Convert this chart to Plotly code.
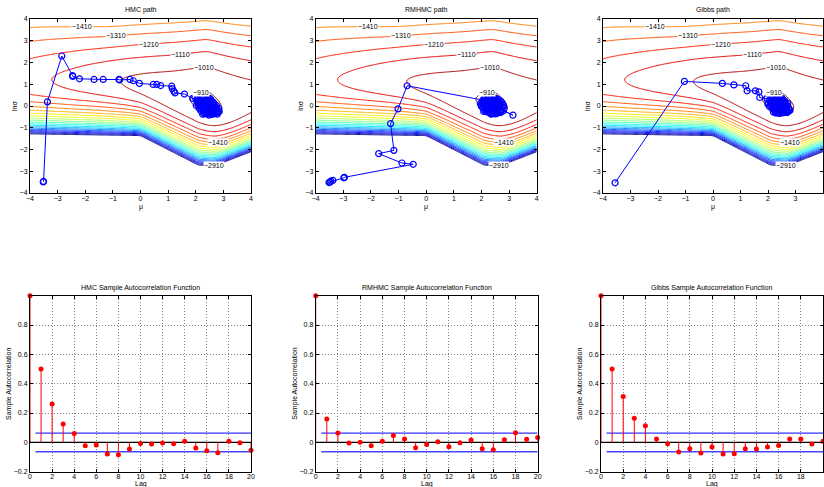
import numpy as np
import plotly.graph_objects as go

# ---------------- data ----------------
# sampler paths in (mu, ln sigma): burn-in part, then the dense cloud around the mode
hmc_mu = [-3.52, -3.51, -3.37, -2.85, -2.46, -2.45, -2.21, -1.68, -1.35, -0.78, -0.76, -0.38, -0.26, -0.04,
          0.46, 0.59, 0.73, 1.13, 1.15, 1.21, 1.25, 1.59, 1.89,
          2.05, 2.35, 2.15, 2.55, 2.25, 2.62, 2.42, 2.72, 2.32, 2.58, 2.18, 2.78, 2.48, 2.38, 2.66, 2.08,
          2.52, 2.82, 2.28, 2.60, 2.42, 2.22, 2.70, 2.36, 2.56, 2.12, 2.46, 2.76, 2.30, 2.62, 2.50, 2.20,
          2.40, 2.84, 2.16, 2.50, 2.66, 2.32, 2.02, 2.56, 2.44, 2.26, 2.70, 2.38, 2.60,
          2.45, 2.65, 2.25, 2.55, 2.35, 2.70, 2.15, 2.50, 2.80, 2.30, 2.60, 2.40, 2.20, 2.75, 2.45, 2.05,
          2.58, 2.35, 2.68, 2.28, 2.52, 2.12, 2.62, 2.42, 2.85, 2.30, 2.50, 2.18, 2.72, 2.40, 2.60, 2.25,
          2.55, 2.10, 2.48, 2.78, 2.34, 2.66, 1.98, 2.45]
hmc_ls = [-3.49, -3.47, 0.19, 2.30, 1.40, 1.36, 1.25, 1.22, 1.22, 1.22, 1.20, 1.22, 1.16, 1.04,
          0.99, 0.99, 0.94, 0.91, 0.80, 0.68, 0.60, 0.55, 0.35,
          0.32, 0.05, 0.22, -0.12, 0.12, -0.28, 0.02, -0.15, -0.18, 0.12, -0.02, -0.30, -0.36, 0.26, 0.04, 0.12,
          0.22, -0.22, -0.30, -0.38, 0.14, 0.36, -0.02, -0.08, -0.22, -0.10, 0.30, -0.08, 0.00, 0.10, -0.28, 0.16,
          -0.22, -0.12, 0.30, 0.06, -0.30, -0.36, 0.02, 0.24, -0.05, 0.24, -0.22, -0.30, 0.00,
          0.18, -0.18, 0.05, 0.00, -0.25, -0.35, 0.10, 0.35, -0.30, 0.18, -0.10, -0.32, -0.15, 0.02, 0.10, 0.20,
          -0.38, 0.32, -0.25, -0.08, 0.15, 0.00, 0.18, -0.15, -0.25, 0.40, -0.18, -0.22, -0.12, 0.22, -0.05, -0.38,
          0.30, 0.25, -0.42, -0.38, 0.08, 0.14, 0.38, -0.10]

rmhmc_mu = [-3.52, -3.45, -3.38, -3.48, -2.98, -2.96, -0.47, -0.88, -1.72, -1.17, -1.29, -1.02, -0.69,
            2.06, 2.45, 3.14, 2.80, 2.30, 2.55, 2.10, 2.65, 2.35, 2.75, 2.20, 2.50, 2.00, 2.40, 2.70, 2.25,
            2.60, 2.05, 2.45, 2.80, 2.15, 2.55, 2.35, 2.65, 2.25, 2.50, 2.10, 2.40, 2.72, 2.30, 2.58, 2.18,
            2.48, 2.02, 2.36, 2.68, 2.28, 2.52, 2.42, 2.62,
            2.32, 2.12, 2.55, 2.75, 2.20, 2.45, 2.62, 2.05, 2.38, 2.82, 2.28, 2.50, 2.15, 2.70, 2.42, 2.00,
            2.58, 2.25, 2.48, 2.78, 2.35, 2.10, 2.65, 2.30, 2.52, 2.22, 2.72, 2.40, 1.96, 2.60, 2.18, 2.45,
            2.35, 2.68, 2.08, 2.55]
rmhmc_ls = [-3.52, -3.45, -3.42, -3.50, -3.30, -3.28, -2.68, -2.62, -2.19, -2.04, -0.81, -0.13, 0.93,
            0.27, 0.00, -0.42, -0.22, 0.30, -0.30, 0.18, 0.10, -0.35, -0.05, -0.10, 0.34, 0.05, -0.20, 0.22,
            0.38, -0.15, -0.08, 0.15, 0.02, 0.28, 0.28, -0.32, -0.28, 0.06, -0.02, 0.36, 0.24, -0.20, -0.12,
            0.14, -0.22, -0.36, 0.20, -0.05, 0.08, 0.18, -0.18, 0.40, -0.05,
            -0.25, -0.20, 0.08, 0.15, 0.25, -0.30, 0.30, 0.12, 0.10, -0.10, -0.05, 0.22, -0.12, -0.30, 0.30, -0.02,
            -0.12, 0.36, -0.10, 0.05, -0.38, 0.08, 0.18, 0.00, 0.35, -0.28, -0.22, -0.15, 0.10, 0.22, 0.04, 0.12,
            0.42, -0.02, -0.25, -0.35]

gibbs_mu = [-3.56, -1.04, 0.34, 0.76, 1.19, 1.24, 1.54, 1.67, 1.70, 1.96, 2.16, 2.20,
            2.45, 2.10, 2.60, 2.30, 2.75, 2.20, 2.50, 2.00, 2.65, 2.35, 2.15, 2.55, 2.40, 2.78, 2.25,
            2.62, 2.05, 2.45, 2.70, 2.30, 2.52, 2.12, 2.42, 2.68, 2.22, 2.58, 2.36, 2.48, 2.18, 2.74,
            2.32, 2.56, 2.08, 2.44, 2.64, 2.28,
            2.50, 2.15, 2.70, 2.38, 2.58, 2.25, 2.80, 2.45, 2.05, 2.62, 2.32, 2.52, 2.20, 2.72, 2.42, 2.10,
            2.55, 2.35, 2.66, 2.28, 2.48, 2.00, 2.60, 2.40, 2.76, 2.22, 2.54, 2.34, 2.68, 2.46, 2.14, 2.58,
            2.30, 2.44]
gibbs_ls = [-3.53, 1.13, 1.04, 0.97, 0.93, 0.70, 0.70, 0.65, 0.39, 0.33, 0.50, 0.30,
            0.05, 0.20, -0.20, 0.32, -0.10, -0.05, 0.28, 0.08, 0.10, -0.30, 0.36, -0.32, 0.15, -0.18, -0.22,
            0.22, -0.02, -0.12, 0.02, 0.00, 0.34, 0.25, -0.34, -0.28, 0.10, -0.08, 0.26, -0.25, -0.15, -0.25,
            -0.32, 0.12, 0.14, 0.38, -0.02, 0.18,
            -0.05, 0.05, -0.30, 0.15, 0.20, -0.15, -0.20, -0.22, 0.28, -0.12, 0.04, 0.30, -0.28, 0.12, -0.32, 0.18,
            -0.28, 0.40, 0.00, -0.32, 0.08, 0.15, -0.20, 0.32, -0.10, 0.22, -0.15, -0.05, -0.22, -0.02, -0.10, 0.12,
            0.22, 0.36]

# autocorrelation functions
lags = list(range(21))
acf_hmc = [1.0, 0.50, 0.261, 0.126, 0.06, -0.023, -0.018, -0.080, -0.085, -0.046, -0.007,
           -0.011, -0.005, -0.009, 0.007, -0.039, -0.057, -0.071, 0.007, -0.002, -0.053]
acf_rmhmc = [1.0, 0.16, 0.064, -0.005, 0.0, -0.023, 0.007, 0.046, 0.023, -0.037, -0.014,
             0.005, -0.030, -0.002, 0.016, -0.043, -0.050, 0.018, 0.066, 0.021, 0.034]
acf_gibbs = [1.0, 0.50, 0.313, 0.165, 0.114, 0.023, -0.009, -0.066, -0.043, -0.073, -0.032,
             -0.080, -0.078, -0.043, -0.046, -0.032, -0.021, 0.023, 0.023, -0.011, 0.007]
acf_bound = 0.0632

titles_top = ["HMC path", "RMHMC path", "Gibbs path"]
titles_bottom = ["HMC Sample Autocorrelation Function", "RMHMC Sample Autocorrelation Function",
                 "Gibbs Sample Autocorrelation Function"]

# log-posterior surface description (contour levels and shape)
level_lo, level_hi, level_step = -2910, -910, 100
peak_mu, peak_val = 2.4, -890.0
ridge_mu = [-5.5, -4, -1.5, -0.5, 0.5, 1.3, 1.9, 2.4, 2.9, 3.4, 4, 5.5]
ridge_ls = [1.22, 1.22, 1.20, 1.12, 0.85, 0.50, 0.28, 0.05, -0.15, -0.05, 0.25, 0.8]
wall_mu = [-5.5, -4, 0, 2.1, 2.7, 4, 5.5]
wall_ls = [-1.27, -1.28, -1.36, -2.72, -2.74, -2.10, -1.4]
steep_mu = [-5.5, -4, -1, 5.5]
steep_val = [0.7, 0.7, 1.0, 1.0]
contour_labels = [(-1410, -2.1, 'up'), (-1310, -0.9, 'up'), (-1210, 0.3, 'up'), (-1110, 1.45, 'up'),
                  (-1010, 2.3, 'up'), (-910, 2.2, 'up'), (-1410, 2.8, 'down'), (-2910, 2.65, 'down')]

# ---------------- surface ----------------
def smooth_curve(xc, yc, x, sigma):
    fine = np.linspace(-5.5, 5.5, 1101)
    y = np.interp(fine, xc, yc)
    n = int(round(sigma / 0.01))
    if n > 0:
        k = np.arange(-3 * n, 3 * n + 1)
        ker = np.exp(-0.5 * (k / n) ** 2)
        ker /= ker.sum()
        y = np.convolve(np.pad(y, 3 * n, mode='edge'), ker, mode='valid')
    return np.interp(x, fine, y)


def P(s):
    u = np.maximum(s + 0.5, 0)
    return 21.7 * u ** 2 + 1.195 * u ** 3


def dP(s):
    u = np.maximum(s + 0.5, 0)
    return 43.4 * u + 3.585 * u ** 2


def surface(MU, S):
    r = smooth_curve(ridge_mu, ridge_ls, MU, 0.3)
    w = smooth_curve(wall_mu, wall_ls, MU, 0.05)
    lam = smooth_curve(steep_mu, steep_val, MU, 0.4)
    dm = MU - peak_mu
    c = np.where(dm < 0, 40.0, 46.0)
    M = peak_val - c * (np.sqrt(dm ** 2 + 0.11 ** 2) - 0.11)
    du = S - r
    dup = np.maximum(du, 0)
    up = lam * (P(S) - P(r) - dP(r) * dup * np.exp(-dup / 0.5))
    t = (r - S) / (r - w)
    K = 2.2
    g = (np.exp(K * t) - 1 - K * t) / (np.exp(K) - 1 - K)
    down = (M - level_lo) * g
    return np.where(S >= r, M - up, M - down), r


grid = np.linspace(-4, 4, 241)
MU, S = np.meshgrid(grid, grid)
Z, _ = surface(MU, S)
Z = np.maximum(Z, -8000).round(1)


def label_pos(level, m, branch):
    ss = np.linspace(-4.5, 4.5, 9001)
    mm = np.full_like(ss, m)
    f, r = surface(mm, ss)
    r0 = r[0]
    if branch == 'up':
        sel = ss >= r0
        return float(np.interp(level, f[sel][::-1], ss[sel][::-1]))
    sel = ss <= r0
    return float(np.interp(level, f[sel], ss[sel]))


jet = [[0, 'rgb(0,0,143)'], [0.125, 'rgb(0,0,255)'], [0.375, 'rgb(0,255,255)'],
       [0.625, 'rgb(255,255,0)'], [0.875, 'rgb(255,0,0)'], [1, 'rgb(128,0,0)']]

FONT = "Liberation Sans, Arial, Helvetica, sans-serif"
W, H = 824, 487
top_x = [(30, 251), (315.7, 536.7), (603, 823)]
bot_x = [(30, 251), (315.7, 537.7), (601, 823)]
top_y = (19, 193)
bot_y = (295.7, 471.7)


def xd(a, b):
    return [a / W, b / W]


def yd(a, b):
    return [1 - b / H, 1 - a / H]


fig = go.Figure()
annotations = []
paths = [(hmc_mu, hmc_ls), (rmhmc_mu, rmhmc_ls), (gibbs_mu, gibbs_ls)]
acfs = [acf_hmc, acf_rmhmc, acf_gibbs]

axis_common = dict(showline=True, linecolor='black', linewidth=1, mirror='ticks', ticks='inside',
                   ticklen=3, tickcolor='black', tickfont=dict(family=FONT, size=7, color='black'),
                   zeroline=False, automargin=False)
txt = dict(family=FONT, size=7, color='black')


def paper_text(x, y, text, angle=0):
    return dict(x=x / W, y=1 - y / H, xref='paper', yref='paper', text=text, textangle=angle,
                xanchor='center', yanchor='middle', showarrow=False, font=txt)


for i in range(3):
    xa, ya = f"x{i + 1 if i else ''}", f"y{i + 1 if i else ''}"
    fig.add_trace(go.Contour(x=grid, y=grid, z=Z, xaxis=xa, yaxis=ya, showscale=False,
                             colorscale=jet, zmin=level_lo, zmax=level_hi, zauto=False,
                             contours=dict(start=level_lo, end=level_hi, size=level_step,
                                           coloring='lines', showlabels=False),
                             line=dict(width=1), hoverinfo='skip'))
    pm, pl = paths[i]
    fig.add_trace(go.Scatter(x=pm, y=pl, xaxis=xa, yaxis=ya, mode='lines+markers',
                             line=dict(color='rgb(0,0,255)', width=1),
                             marker=dict(symbol='circle-open', size=6, color='rgb(0,0,255)',
                                         line=dict(width=1.2, color='rgb(0,0,255)')),
                             showlegend=False))
    for lev, m, br in contour_labels:
        annotations.append(dict(x=m, y=label_pos(lev, m, br), xref=xa, yref=ya,
                                text='\u2212' + str(abs(lev)), showarrow=False, font=txt,
                                xanchor='center', yanchor='middle', bgcolor='white', borderpad=0))
    key = 'xaxis' + (str(i + 1) if i else '')
    ykey = 'yaxis' + (str(i + 1) if i else '')
    fig.layout[key] = dict(axis_common, domain=xd(*top_x[i]), range=[-4, 4], dtick=1,
                           anchor=ya, showgrid=False, ticklabelstandoff=-1)
    fig.layout[ykey] = dict(axis_common, domain=yd(*top_y), range=[-4, 4], dtick=1,
                            anchor=xa, showgrid=False)
    cx = (top_x[i][0] + top_x[i][1]) / 2
    annotations.append(paper_text(cx, 10, titles_top[i]))
    annotations.append(paper_text(cx, 207, '\u03bc'))
    annotations.append(paper_text(top_x[i][0] - 16, 106, 'ln\u03c3', -90))

for i in range(3):
    n = i + 4
    xa, ya = f"x{n}", f"y{n}"
    vals = acfs[i]
    sx, sy = [], []
    for lg, v in zip(lags, vals):
        sx += [lg, lg, None]
        sy += [0, v, None]
    fig.add_trace(go.Scatter(x=[lags[0], lags[-1]], y=[0, 0], xaxis=xa, yaxis=ya, mode='lines',
                             line=dict(color='black', width=1.2), showlegend=False))
    fig.add_trace(go.Scatter(x=[0.5, lags[-1]], y=[acf_bound, acf_bound], xaxis=xa, yaxis=ya,
                             mode='lines', line=dict(color='rgb(0,0,255)', width=1), showlegend=False))
    fig.add_trace(go.Scatter(x=[0.5, lags[-1]], y=[-acf_bound, -acf_bound], xaxis=xa, yaxis=ya,
                             mode='lines', line=dict(color='rgb(70,70,255)', width=1.5), showlegend=False))
    fig.add_trace(go.Scatter(x=sx, y=sy, xaxis=xa, yaxis=ya, mode='lines',
                             line=dict(color='rgb(255,0,0)', width=1), showlegend=False))
    fig.add_trace(go.Scatter(x=lags, y=vals, xaxis=xa, yaxis=ya, mode='markers', cliponaxis=False,
                             marker=dict(symbol='circle', size=5, color='rgb(255,0,0)'),
                             showlegend=False))
    fig.layout['xaxis' + str(n)] = dict(axis_common, domain=xd(*bot_x[i]), range=[0, 20],
                                        tickvals=list(range(0, 21, 2)), anchor=ya, showgrid=True,
                                        gridcolor='rgb(130,130,130)', griddash='1px,2px', gridwidth=1,
                                        ticklabelstandoff=-2)
    fig.layout['yaxis' + str(n)] = dict(axis_common, domain=yd(*bot_y), range=[-0.2, 1],
                                        tickvals=[-0.2, 0, 0.2, 0.4, 0.6, 0.8],
                                        ticktext=['\u22120.2', '0', '0.2', '0.4', '0.6', '0.8'],
                                        anchor=xa, showgrid=True,
                                        gridcolor='rgb(130,130,130)', griddash='1px,2px', gridwidth=1)
    cx = (bot_x[i][0] + bot_x[i][1]) / 2
    annotations.append(paper_text(cx, 288, titles_bottom[i]))
    annotations.append(paper_text(cx, 484, 'Lag'))
    annotations.append(paper_text(bot_x[i][0] - 21, 384, 'Sample Autocorrelation', -90))

fig.update_layout(width=W, height=H, margin=dict(l=0, r=0, t=0, b=0), paper_bgcolor='white',
                  plot_bgcolor='white', showlegend=False, annotations=annotations, font=txt)
fig.write_html("out.html", config={'displayModeBar': False},
               post_script="document.body.style.margin='0px';document.body.style.overflow='hidden';")
